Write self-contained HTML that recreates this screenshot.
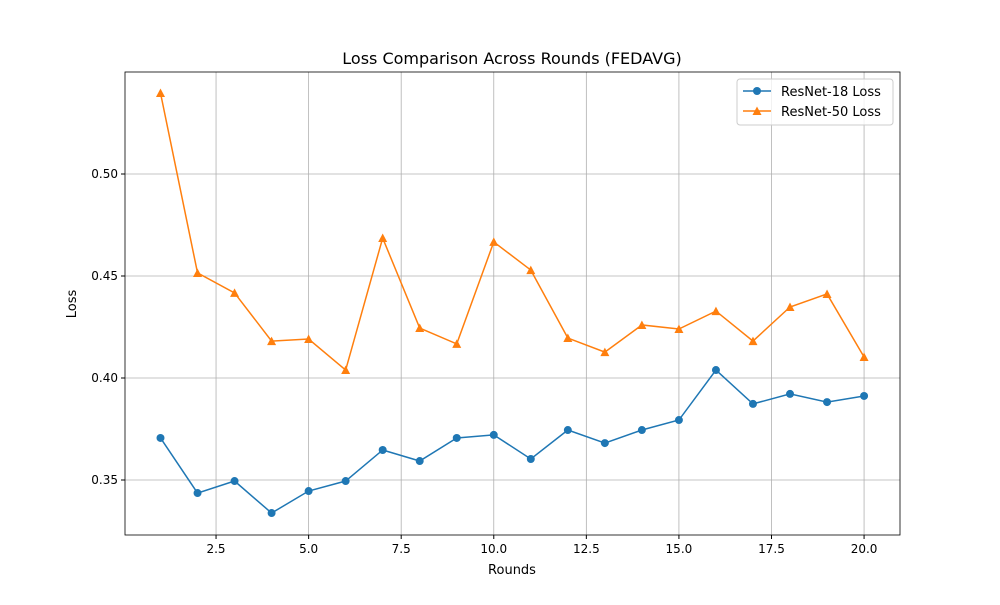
<!DOCTYPE html>
<html><head><meta charset="utf-8"><style>body{margin:0;background:#fff}svg{font-family:"DejaVu Sans","Liberation Sans",sans-serif}</style></head>
<body>
<svg id="chart" width="1000" height="600">
<rect width="1000" height="600" fill="#fff"/>
<g id="grid"></g>
<g id="axes"></g>
<g id="series"></g>
<text x="512" y="64" font-size="16" text-anchor="middle">Loss Comparison Across Rounds (FEDAVG)</text>
<text x="512" y="574" font-size="13" text-anchor="middle">Rounds</text>
<text x="76" y="304" font-size="13" text-anchor="middle" transform="rotate(-90 76 304)">Loss</text>
<g>
<rect x="737" y="79" width="156" height="46" fill="#fff" fill-opacity="0.8" stroke="#ccc" rx="3"/>
<line x1="743" y1="91" x2="771" y2="91" stroke="#1f77b4" stroke-width="1.5"/>
<circle cx="757" cy="91" r="4" fill="#1f77b4"/>
<text x="781" y="96" font-size="13">ResNet-18 Loss</text>
<line x1="743" y1="111" x2="771" y2="111" stroke="#ff7f0e" stroke-width="1.5"/>
<polygon points="757,106.5 761.5,115 752.5,115" fill="#ff7f0e"/>
<text x="781" y="116" font-size="13">ResNet-50 Loss</text>
</g>
</svg>
<script>
const rounds=[1,2,3,4,5,6,7,8,9,10,11,12,13,14,15,16,17,18,19,20];
const resnet18=[0.3706,0.3436,0.3495,0.3338,0.3446,0.3495,0.3647,0.3593,0.3706,0.3721,0.3603,0.3745,0.3681,0.3745,0.3794,0.4039,0.3873,0.3922,0.3882,0.3912];
const resnet50=[0.5397,0.4515,0.4417,0.4181,0.4191,0.4039,0.4686,0.4245,0.4167,0.4667,0.4529,0.4196,0.4127,0.4260,0.4240,0.4328,0.4181,0.4348,0.4412,0.4103];
const xTicks=[2.5,5.0,7.5,10.0,12.5,15.0,17.5,20.0];
const yTicks=[0.35,0.40,0.45,0.50];
const L=125,R=900,T=72,B=535;
const X=v=>160.5+(v-1)*37.03;
const Y=v=>480-(v-0.35)*2040;
const ns="http://www.w3.org/2000/svg";
function mk(tag,attrs,parent){const e=document.createElementNS(ns,tag);for(const k in attrs)e.setAttribute(k,attrs[k]);document.getElementById(parent).appendChild(e);return e;}
xTicks.forEach(t=>{
 const g=mk('line',{x1:X(t),x2:X(t),y1:T,y2:B,stroke:'#b0b0b0','stroke-width':0.8},'grid');
 
 
 mk('line',{x1:X(t),x2:X(t),y1:B,y2:B+4,stroke:'#000'},'axes');
 const tx=mk('text',{x:X(t),y:B+18,'font-size':12,'text-anchor':'middle'},'axes');tx.textContent=t.toFixed(1);
 
 
});
yTicks.forEach(t=>{
 const g=mk('line',{x1:L,x2:R,y1:Y(t),y2:Y(t),stroke:'#b0b0b0','stroke-width':0.8},'grid');
 
 
 mk('line',{x1:L-4,x2:L,y1:Y(t),y2:Y(t),stroke:'#000'},'axes');
 const tx=mk('text',{x:L-7,y:Y(t)+4,'font-size':12,'text-anchor':'end'},'axes');tx.textContent=t.toFixed(2);
 
 
});
const fr=mk('rect',{x:L,y:T,width:R-L,height:B-T,fill:'none',stroke:'#000','stroke-width':0.8},'axes');


function series(vals,color,marker,name){
 const pl=mk('polyline',{points:vals.map((v,i)=>X(rounds[i])+','+Y(v)).join(' '),fill:'none',stroke:color,'stroke-width':1.5},'series');
 
 
 vals.forEach((v,i)=>{
  const x=X(rounds[i]),y=Y(v);let m;
  if(marker==='o')m=mk('circle',{cx:x,cy:y,r:4,fill:color},'series');
  else m=mk('polygon',{points:`${x},${y-4.5} ${x+4.5},${y+4} ${x-4.5},${y+4}`,fill:color},'series');
  
  
 });
}
series(resnet18,'#1f77b4','o','resnet18');
series(resnet50,'#ff7f0e','^','resnet50');
</script>
</body></html>
